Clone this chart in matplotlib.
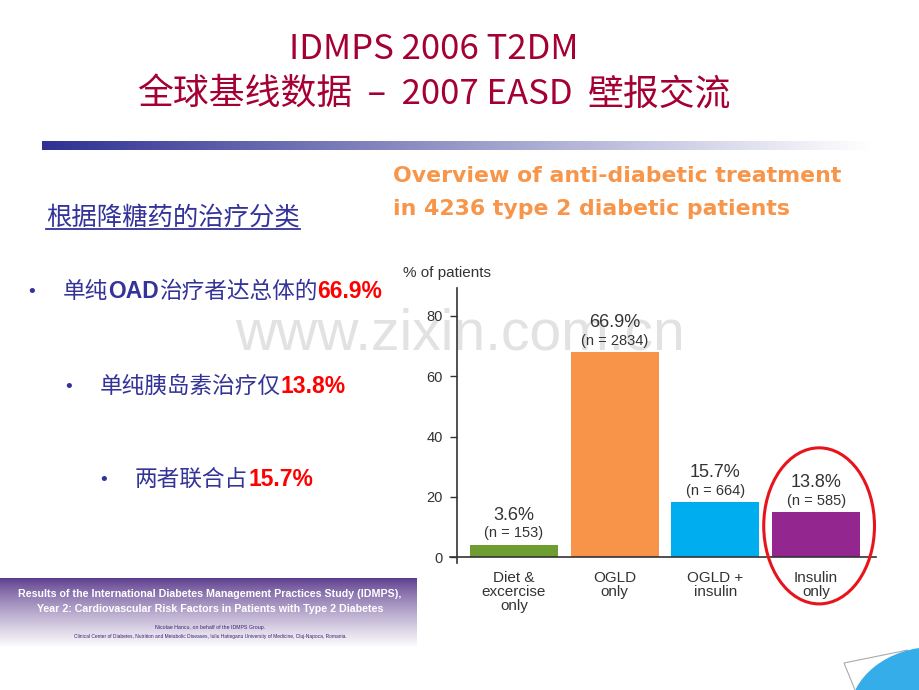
import numpy as np
import matplotlib.pyplot as plt
from matplotlib.patches import Ellipse, Polygon
from matplotlib.colors import to_rgb

# chart data (bar heights as drawn on the slide, labels as printed)
categories = ['Diet &\nexcercise\nonly', 'OGLD\nonly', 'OGLD +\ninsulin', 'Insulin\nonly']
bar_heights = [4.2, 67.9, 18.4, 15.1]
pct_labels = ['3.6%', '66.9%', '15.7%', '13.8%']
n_labels = ['(n = 153)', '(n = 2834)', '(n = 664)', '(n = 585)']
y_ticks = [0, 20, 40, 60, 80]
bar_colors = ['#6E9E32', '#F7944A', '#00AEEF', '#93278F']

CJK = ['Noto Sans CJK SC', 'DejaVu Sans']
SANS = ['Liberation Sans', 'DejaVu Sans']
NAVY = '#333399'
RED = '#FF0000'
TITLE_RED = '#A50034'

fig = plt.figure(figsize=(9.2, 6.9), dpi=100)
bg = fig.add_axes([0, 0, 1, 1])
bg.axis('off')
renderer = fig.canvas.get_renderer()


def put_runs(x, y, runs, center=False):
    # write several differently styled pieces one after another on a baseline
    items = []
    for s, kw in runs:
        t = bg.text(x, y, s, ha='left', va='baseline', **kw)
        w = t.get_window_extent(renderer=renderer).width
        items.append((t, x))
        x += w
    if center:
        shift = (x - items[0][1]) / 2
        for t, x0 in items:
            t.set_x(x0 - shift)
    return items


bg.set_xlim(0, 920)
bg.set_ylim(690, 0)

# slide title
put_runs(434, 59, [('IDMPS 2006 T2DM', dict(family=CJK, fontsize=25, color=TITLE_RED))], center=True)
put_runs(434, 104, [('全球基线数据', dict(family=CJK, fontsize=25.8, color=TITLE_RED)),
                    ('  –  2007 EASD  ', dict(family=CJK, fontsize=25, color=TITLE_RED)),
                    ('壁报交流', dict(family=CJK, fontsize=25.8, color=TITLE_RED))], center=True)

# gradient rule under the title
c0 = np.array(to_rgb('#2E3192'))
g = np.linspace(0, 1, 300)[None, :, None]
bar_grad = c0 * (1 - g) + np.ones(3) * g
bg.imshow(bar_grad, extent=(42, 870, 150, 141), aspect='auto', origin='upper', zorder=1)

# watermark
bg.text(460, 350, 'www.zixin.com.cn', ha='center', va='baseline', fontsize=41,
        family=SANS, color='#E2E2E2', zorder=0)

# left side text
head = put_runs(46, 225, [('根据降糖药的治疗分类', dict(family=CJK, fontsize=18.3, color=NAVY))])
hw = head[0][0].get_window_extent(renderer=renderer).width
bg.plot([46, 46 + hw], [229, 229], color=NAVY, lw=1.3)

bullets = [
    (32, 63, 298, [('单纯', 'c'), ('OAD', 'b'), ('治疗者达总体的', 'c'), ('66.9%', 'r')]),
    (69, 100, 393, [('单纯胰岛素治疗仅', 'c'), ('13.8%', 'r')]),
    (104, 135, 486, [('两者联合占', 'c'), ('15.7%', 'r')]),
]
styles = {
    'c': dict(family=CJK, fontsize=16.3, color=NAVY),
    'b': dict(family=SANS, fontsize=16.5, color=NAVY, weight='bold'),
    'r': dict(family=SANS, fontsize=16.5, color=RED, weight='bold'),
}
for bx, tx, by, parts in bullets:
    bg.text(bx, by - 1, '•', family=SANS, fontsize=14, color=NAVY, ha='center', va='baseline')
    put_runs(tx, by, [(s, styles[k]) for s, k in parts])

# chart heading
ORANGE = '#F7964A'
HEAD = ['DejaVu Sans']
bg.text(393, 182, 'Overview of anti-diabetic treatment', family=HEAD, fontsize=15.8,
        weight='bold', color=ORANGE, va='baseline')
bg.text(393, 215, 'in 4236 type 2 diabetic patients', family=HEAD, fontsize=15.8,
        weight='bold', color=ORANGE, va='baseline')
bg.text(403, 277, '% of patients', family=SANS, fontsize=11, color='#333333', va='baseline')

# bottom-left banner
purple = np.array(to_rgb('#5A3A8C'))
v = np.linspace(0, 1, 200)[:, None, None] ** 0.8
ban = purple * (1 - v) + np.ones(3) * v
bg.imshow(ban, extent=(0, 417, 648, 578), aspect='auto', origin='upper', zorder=1)
bg.text(210, 597, 'Results of the International Diabetes Management Practices Study (IDMPS),',
        family=SANS, fontsize=7.7, weight='bold', color='white', ha='center', va='baseline', zorder=2)
bg.text(210, 612, 'Year 2: Cardiovascular Risk Factors in Patients with Type 2 Diabetes',
        family=SANS, fontsize=7.7, weight='bold', color='white', ha='center', va='baseline', zorder=2)
bg.text(210, 629, 'Nicolae Hancu, on behalf of the IDMPS Group.',
        family=SANS, fontsize=3.8, color='#3B2270', ha='center', va='baseline', zorder=2)
bg.text(210, 638, 'Clinical Center of Diabetes, Nutrition and Metabolic Diseases, Iuliu Hatieganu '
        'University of Medicine, Cluj-Napoca, Romania.',
        family=SANS, fontsize=3.5, color='#3B2270', ha='center', va='baseline', zorder=2)

# bottom-right page curl
bg.add_patch(Polygon([[908, 650], [844, 663], [855, 690]], closed=False, fill=False,
                     ec='#AAAAAA', lw=0.8, zorder=2))
bg.add_patch(Ellipse((935, 715), 170, 135, color='#35ADE9', zorder=3))

bg.set_xlim(0, 920)
bg.set_ylim(690, 0)

# bar chart
ax = fig.add_axes([457 / 920, 1 - 563 / 690, (876 - 457) / 920, (563 - 288) / 690])
ax.patch.set_alpha(0)
x = np.arange(len(categories))
ax.bar(x, bar_heights, width=0.875, color=bar_colors, zorder=2)
ax.set_xlim(-0.566, 3.595)
ax.set_ylim(-1.9, 89.2)
ax.axhline(0, xmin=-0.017, xmax=1, color='#333333', lw=1.2, clip_on=False, zorder=3)
for s in ['top', 'right', 'bottom']:
    ax.spines[s].set_visible(False)
ax.spines['left'].set_color('#333333')
ax.spines['left'].set_linewidth(1.2)
ax.set_yticks(y_ticks)
ax.tick_params(axis='y', length=5, width=1, color='#333333', pad=5, labelsize=10.5,
               labelcolor='#333333')
ax.set_xticks(x)
ax.set_xticklabels(categories, fontsize=11, color='#333333', linespacing=1.0, family=SANS)
ax.tick_params(axis='x', length=0, pad=5.5)
for lab in ax.get_yticklabels():
    lab.set_family(SANS)

for i, h in enumerate(bar_heights):
    ax.annotate(n_labels[i], (i, h), xytext=(0, 3), textcoords='offset points',
                ha='center', va='bottom', fontsize=10.5, color='#333333', family=SANS)
    ax.annotate(pct_labels[i], (i, h), xytext=(0, 15), textcoords='offset points',
                ha='center', va='bottom', fontsize=13, color='#333333', family=SANS)

ax.add_patch(Ellipse((3.03, 10.4), 1.10, 51.7, fill=False, ec='#E8141B', lw=2.2,
                     clip_on=False, zorder=4))

fig.savefig('out.png', dpi=100)
